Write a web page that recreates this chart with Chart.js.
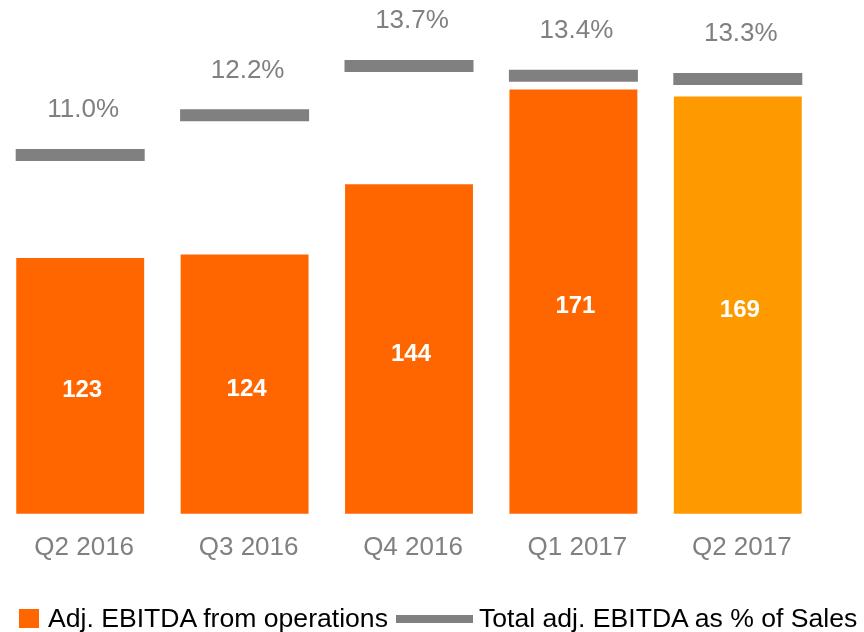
<!DOCTYPE html>
<html>
<head>
<meta charset="utf-8">
<script src="https://cdn.jsdelivr.net/npm/chart.js@4.4.1/dist/chart.umd.min.js"></script>
<style>
  body { margin: 0; background: #fff; }
  #wrap { position: relative; width: 864px; height: 632px; overflow: hidden; }
  #chart { position: absolute; left: -2px; top: 0; }
  #legend {
    position: absolute; left: 19px; top: 603px;
    display: flex; align-items: center; white-space: nowrap;
    font: 26.6px "Liberation Sans", Arial, sans-serif; color: #000;
  }
  .sq { width: 20px; height: 19px; margin-right: 9px; }
  .ln { width: 77px; height: 8px; margin-left: 8px; margin-right: 6px; }
</style>
</head>
<body>
<div id="wrap">
  <canvas id="chart" width="864" height="632"></canvas>
  <div id="legend"></div>
</div>
<script>
'use strict';

// data
const quarters = ['Q2 2016', 'Q3 2016', 'Q4 2016', 'Q1 2017', 'Q2 2017']
const ebitdaOps = [123, 124, 144, 171, 169]
const ebitdaMargin = [11.0, 12.2, 13.7, 13.4, 13.3]
const seriesNames = ['Adj. EBITDA from operations', 'Total adj. EBITDA as % of Sales']

const orange = '#FF6600'
const orangeLatest = '#FF9900'
const grey = '#808080'
const fontFamily = '"Liberation Sans", Arial, sans-serif'

var barColors = quarters.map(function (q, i) {
    return i == quarters.length - 1 ? orangeLatest : orange
})

// value labels inside bars, percentages above the grey markers
var labelPlugin = {
    id: 'labels',
    afterDatasetsDraw: function (chart) {
        var ctx = chart.ctx
        var bottom = chart.chartArea.bottom
        ctx.save()
        ctx.textAlign = 'center'
        ctx.textBaseline = 'middle'

        ctx.fillStyle = '#fff'
        ctx.font = 'bold 24px ' + fontFamily
        chart.getDatasetMeta(0).data.forEach(function (bar, i) {
            var base = Math.min(bar.base, bottom)
            ctx.fillText(ebitdaOps[i], bar.x + 2, (bar.y + base) / 2 + 5)
        })

        ctx.fillStyle = grey
        ctx.font = '26px ' + fontFamily
        chart.getDatasetMeta(1).data.forEach(function (pt, i) {
            ctx.fillText(ebitdaMargin[i].toFixed(1) + '%', pt.x + 3, pt.y - 45)
        })
        ctx.restore()
    }
}

var ctx = document.getElementById('chart').getContext('2d')
new Chart(ctx, {
    data: {
        labels: quarters,
        datasets: [{
            type: 'bar',
            label: seriesNames[0],
            data: ebitdaOps,
            backgroundColor: barColors,
            yAxisID: 'y',
            barPercentage: 0.778,
            categoryPercentage: 1,
            order: 2
        }, {
            type: 'line',
            label: seriesNames[1],
            data: ebitdaMargin,
            yAxisID: 'y2',
            showLine: false,
            pointStyle: 'line',
            pointRadius: 64.5,
            pointHoverRadius: 64.5,
            pointBorderWidth: 12,
            pointHoverBorderWidth: 12,
            borderColor: grey,
            backgroundColor: grey,
            order: 1
        }]
    },
    options: {
        responsive: false,
        animation: false,
        events: [],
        layout: {
            autoPadding: false,
            padding: { top: 23, bottom: 51, left: 0, right: 42 }
        },
        plugins: {
            legend: { display: false },
            tooltip: { enabled: false }
        },
        scales: {
            x: {
                grid: { display: false, drawTicks: false },
                border: { display: false },
                ticks: {
                    color: grey,
                    padding: 18,
                    labelOffset: 4,
                    font: { family: fontFamily, size: 26 }
                }
            },
            y: { display: false, min: 50, max: 190 },
            y2: { display: false, position: 'right', min: 0.12, max: 15 }
        }
    },
    plugins: [labelPlugin]
})

// legend as plain html under the chart
var legend = document.getElementById('legend')
legend.innerHTML =
    '<div class="sq" style="background:' + orange + '"></div><span>' + seriesNames[0] + '</span>' +
    '<div class="ln" style="background:' + grey + '"></div><span>' + seriesNames[1] + '</span>'
</script>
</body>
</html>
